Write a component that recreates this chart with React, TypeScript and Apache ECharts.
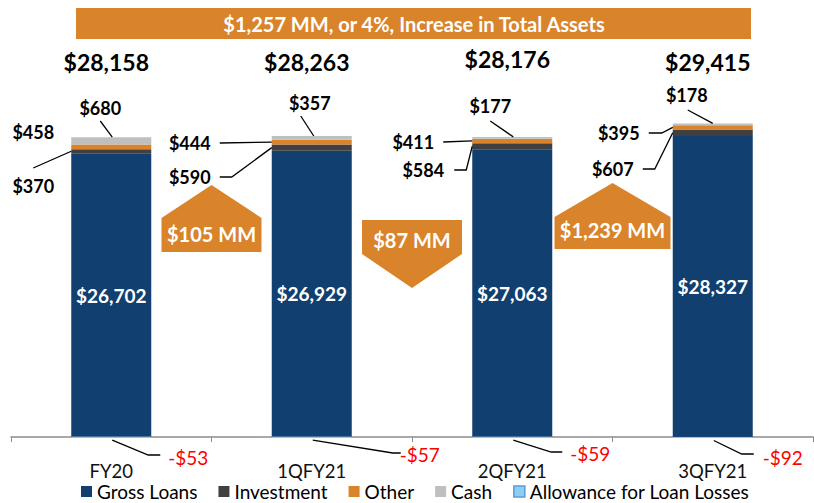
import React, { useEffect, useRef } from 'react';
import * as echarts from 'echarts';

// ---------- data ----------
const categories = ['FY20', '1QFY21', '2QFY21', '3QFY21'];
const grossLoans = [26702, 26929, 27063, 28327];
const investment = [370, 590, 584, 607];
const other = [458, 444, 411, 395];
const cash = [680, 357, 177, 178];
const allowance = [-53, -57, -59, -92];
const totalAssets = [28158, 28263, 28176, 29415];
const periodChanges = [105, -87, 1239];
const headline = '$1,257 MM, or 4%, Increase in Total Assets';
const seriesNames = ['Gross Loans', 'Investment', 'Other', 'Cash', 'Allowance for Loan Losses'];

// ---------- style / layout ----------
const FONT = 'Lato, "Noto Sans", sans-serif';
const C_NAVY = '#103F70';
const C_INV = '#404040';
const C_OTHER = '#D9842B';
const C_CASH = '#BFBFBF';
const C_ALLOW = '#8ECDF7';
const C_ORANGE = '#D9842B';

const fmt = (v: number) => (v < 0 ? '-' : '') + '$' + Math.abs(v).toLocaleString('en-US');

const cashLbl = [
  { dx: -11, y: 108, from: [-11, 121], toDx: 1 },
  { dx: -2, y: 103, from: [-11, 116], toDx: 2 },
  { dx: -22, y: 106, from: [-22, 121], toDx: 1 },
  { dx: -26, y: 95, from: [-25, 110], toDx: 0 },
];
const otherLbl = [
  { dx: -78, y: 132, pts: [] as number[][] },
  { dx: -122, y: 143, pts: [[-92, 143]] },
  { dx: -99, y: 142, pts: [[-69, 142]] },
  { dx: -94, y: 133, pts: [[-64, 133], [-51, 133]] },
];
const invLbl = [
  { dx: -78, y: 186, pts: [[-78, 168]] },
  { dx: -122, y: 177, pts: [[-92, 177], [-80, 177]] },
  { dx: -89, y: 170, pts: [[-58, 170], [-46, 170]] },
  { dx: -100, y: 169, pts: [[-70, 169], [-58, 169]] },
];
const allowLbl = [
  { dx: 77, y: 457, pts: [[37, 455], [49, 455]] },
  { dx: 108, y: 454, pts: [[81, 453], [89, 453]] },
  { dx: 78, y: 453, pts: [[39, 452], [50, 452]] },
  { dx: 70, y: 457, pts: [[29, 454], [41, 454]] },
];
const totalY = [62, 62, 59, 62];
const arrowShapes = [
  { w: 50, top: 185, shoulder: 218, bottom: 252, textY: 234 },
  { w: 50, top: 220, shoulder: 254, bottom: 288, textY: 240 },
  { w: 58, top: 183, shoulder: 217, bottom: 249, textY: 230 },
];
const BAR_W = 80;

export default function App() {
  const ref = useRef<HTMLDivElement>(null);

  useEffect(() => {
    if (!ref.current) return;
    const chart = echarts.init(ref.current, undefined, { renderer: 'svg' });

    const mk = (name: string, data: number[], color: string, extra: any = {}) => ({
      name,
      type: 'bar',
      stack: 'assets',
      barWidth: BAR_W,
      data,
      itemStyle: { color },
      emphasis: { disabled: true },
      ...extra,
    });

    chart.setOption({
      animation: false,
      textStyle: { fontFamily: FONT },
      grid: { left: 11, right: 1, top: 65, bottom: 60.7, containLabel: false },
      legend: {
        data: seriesNames.map((n, i) =>
          i === 4 ? { name: n, itemStyle: { borderColor: '#5B9BD5', borderWidth: 1.5 } } : { name: n }
        ),
        left: 81,
        top: 482,
        padding: 0,
        itemWidth: 11,
        itemHeight: 11,
        itemGap: 21,
        icon: 'rect',
        textStyle: { fontFamily: FONT, fontSize: 19, lineHeight: 18, color: '#000' },
        selectedMode: false,
      },
      xAxis: {
        type: 'category',
        data: categories,
        axisLine: { onZero: true, lineStyle: { color: '#8C8C8C', width: 1.5 } },
        axisTick: { show: true, length: 5, lineStyle: { color: '#8C8C8C' } },
        axisLabel: { fontFamily: FONT, fontSize: 18.5, color: '#111', margin: 19 },
      },
      yAxis: { type: 'value', min: -500, max: 35000, show: false, splitLine: { show: false } },
      series: [
        mk(seriesNames[0], grossLoans, C_NAVY, {
          label: {
            show: true,
            position: 'inside',
            formatter: (p: any) => fmt(p.value),
            color: '#fff',
            fontFamily: FONT,
            fontWeight: 'bold',
            fontSize: 19,
          },
        }),
        mk(seriesNames[1], investment, C_INV),
        mk(seriesNames[2], other, C_OTHER),
        mk(seriesNames[3], cash, C_CASH),
        mk(seriesNames[4], allowance, C_ALLOW, {
          itemStyle: { color: C_ALLOW, borderColor: '#9DC3E6', borderWidth: 1 },
        }),
      ],
    });

    const px = (i: number, v: number) =>
      chart.convertToPixel({ xAxisIndex: 0, yAxisIndex: 0 }, [i, v]) as number[];

    const g: any[] = [];
    const lineStyle = { stroke: '#000', lineWidth: 1.3, fill: null };
    const lblText = (x: number, y: number, text: string, color = '#000', bold = true, size = 18) => ({
      type: 'text',
      x,
      y,
      z: 20,
      style: {
        text,
        x: 0,
        y: 0,
        align: 'center',
        verticalAlign: 'middle',
        fill: color,
        fontFamily: FONT,
        fontWeight: bold ? 'bold' : 'normal',
        fontSize: size,
      },
    });

    // headline banner
    g.push({
      type: 'rect',
      shape: { x: 76, y: 8, width: 675, height: 31 },
      style: { fill: C_ORANGE },
      z: 10,
    });
    g.push(lblText(414, 24, headline, '#fff', true, 20));

    categories.forEach((_, i) => {
      const base = grossLoans[i];
      const invTop = base + investment[i];
      const othTop = invTop + other[i];
      const cashTop = othTop + cash[i];
      const [cx, zeroY] = px(i, 0);
      const barLeft = cx - BAR_W / 2;
      const invMid = px(i, (base + invTop) / 2)[1];
      const othMid = px(i, (invTop + othTop) / 2)[1];
      const topY = px(i, cashTop)[1];

      // total
      g.push(lblText(cx - 5, totalY[i], fmt(totalAssets[i]), '#000', true, 23));

      // cash
      const cl = cashLbl[i];
      g.push(lblText(cx + cl.dx, cl.y, fmt(cash[i])));
      g.push({
        type: 'polyline',
        z: 15,
        shape: { points: [[cx + cl.from[0], cl.from[1]], [cx + cl.toDx, topY]] },
        style: lineStyle,
      });

      // other
      const ol = otherLbl[i];
      g.push(lblText(cx + ol.dx, ol.y, fmt(other[i])));
      if (ol.pts.length) {
        g.push({
          type: 'polyline',
          z: 15,
          shape: { points: [...ol.pts.map((p) => [cx + p[0], p[1]]), [barLeft, othMid]] },
          style: lineStyle,
        });
      }

      // investment
      const il = invLbl[i];
      g.push(lblText(cx + il.dx, il.y, fmt(investment[i])));
      g.push({
        type: 'polyline',
        z: 15,
        shape: { points: [...il.pts.map((p) => [cx + p[0], p[1]]), [barLeft, invMid]] },
        style: lineStyle,
      });

      // allowance
      const al = allowLbl[i];
      const allowBottom = px(i, allowance[i])[1];
      g.push(lblText(cx + al.dx, al.y, fmt(allowance[i]), '#FF0000', false, 19));
      g.push({
        type: 'polyline',
        z: 15,
        shape: { points: [[cx + 1, Math.max(allowBottom, zeroY) + 2.5], ...al.pts.map((p) => [cx + p[0], p[1]])] },
        style: lineStyle,
      });
    });

    // change arrows between periods
    periodChanges.forEach((chg, i) => {
      const bx = (px(i, 0)[0] + px(i + 1, 0)[0]) / 2;
      const s = arrowShapes[i];
      const pts =
        chg >= 0
          ? [[bx, s.top], [bx + s.w, s.shoulder], [bx + s.w, s.bottom], [bx - s.w, s.bottom], [bx - s.w, s.shoulder]]
          : [[bx - s.w, s.top], [bx + s.w, s.top], [bx + s.w, s.shoulder], [bx, s.bottom], [bx - s.w, s.shoulder]];
      g.push({ type: 'polygon', z: 12, shape: { points: pts }, style: { fill: C_ORANGE } });
      g.push(lblText(bx, s.textY, fmt(Math.abs(chg)) + ' MM', '#fff', true, 20));
    });

    chart.setOption({ graphic: g });

    return () => chart.dispose();
  }, []);

  return <div ref={ref} style={{ width: 814, height: 503, position: 'absolute', left: 0, top: 0 }} />;
}
